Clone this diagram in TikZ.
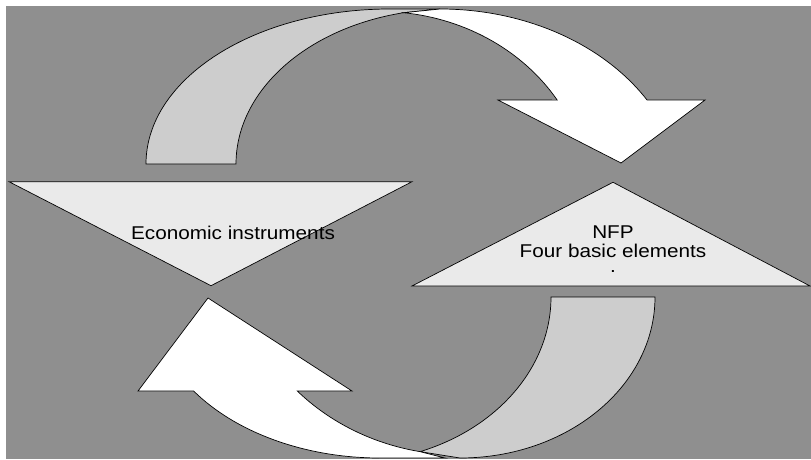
\documentclass[tikz,border=0pt]{standalone}
\usepackage{fontspec}
\newfontfamily\lbfont{Liberation Sans}[FakeStretch=1.12]
\usetikzlibrary{calc}
\definecolor{bggray}{RGB}{143,143,143}
\definecolor{bandgray}{RGB}{205,205,205}
\definecolor{trifill}{RGB}{234,234,234}
\begin{document}
\begin{tikzpicture}[x=1pt,y=1pt,
  outl/.style={draw=black,line width=0.7pt,line join=miter},
  backband/.style={outl,fill=bandgray},
  frontarrow/.style={outl,fill=white},
  tri/.style={outl,fill=trifill},
  lbl/.style={font=\lbfont\fontsize{18.5}{18.7}\selectfont,inner sep=0pt}]
\useasboundingbox (0,0) rectangle (811,459);
\fill[white] (0,0) rectangle (811,459);
\fill[bggray] (6,0) rectangle (811,453);

% key points
\coordinate (tbi) at ($(450,295)+(102.55:214pt and 155pt)$);
\coordinate (twi) at ($(380,259)+(32.0:209pt and 188.5pt)$);
\coordinate (bj)  at ($(350,162)+(-69.6:201pt and 165pt)$);
\coordinate (bwo) at ($(380,159)+(215.2:228pt and 158pt)$);

% top curved arrow: back band
\path[backband] (146,295) arc[start angle=180,end angle=90,x radius=244pt,y radius=155pt]
  -- (440,450) -- (tbi)
  arc[start angle=102.55,end angle=180,x radius=214pt,y radius=155pt] -- cycle;
% top curved arrow: front with head
\path[frontarrow] (tbi) -- (440,450)
  arc[start angle=90,end angle=31.6,x radius=243pt,y radius=191pt]
  -- (705,359) -- (621,296) -- (498,359) -- (twi)
  arc[start angle=32.0,end angle=83.55,x radius=209pt,y radius=188.5pt] -- cycle;

% bottom curved arrow: back band
\path[backband] (551,162) -- (655,162)
  arc[start angle=0,end angle=-90,x radius=195pt,y radius=161pt]
  -- (bj) arc[start angle=-69.6,end angle=0,x radius=201pt,y radius=165pt] -- cycle;
% bottom curved arrow: front with head
\path[frontarrow] (bwo)
  arc[start angle=215.2,end angle=270,x radius=228pt,y radius=158pt]
  -- (445,1) -- (bj)
  arc[start angle=259.7,end angle=223.5,x radius=224.5pt,y radius=205pt]
  -- (352,68) -- (208,161) -- (138,68) -- cycle;

% triangles
\path[tri] (9,277.3) -- (412,277.3) -- (211,173.3) -- cycle;
\path[tri] (613,276.7) -- (810,173) -- (412,173) -- cycle;

% labels
\node[lbl,anchor=base] (econ) at (233,219.5) {Economic instruments};
\node[lbl,anchor=north,align=center] (nfp) at (613,233.3) {NFP\\Four basic elements\\[-3.1pt].};
\end{tikzpicture}
\end{document}
